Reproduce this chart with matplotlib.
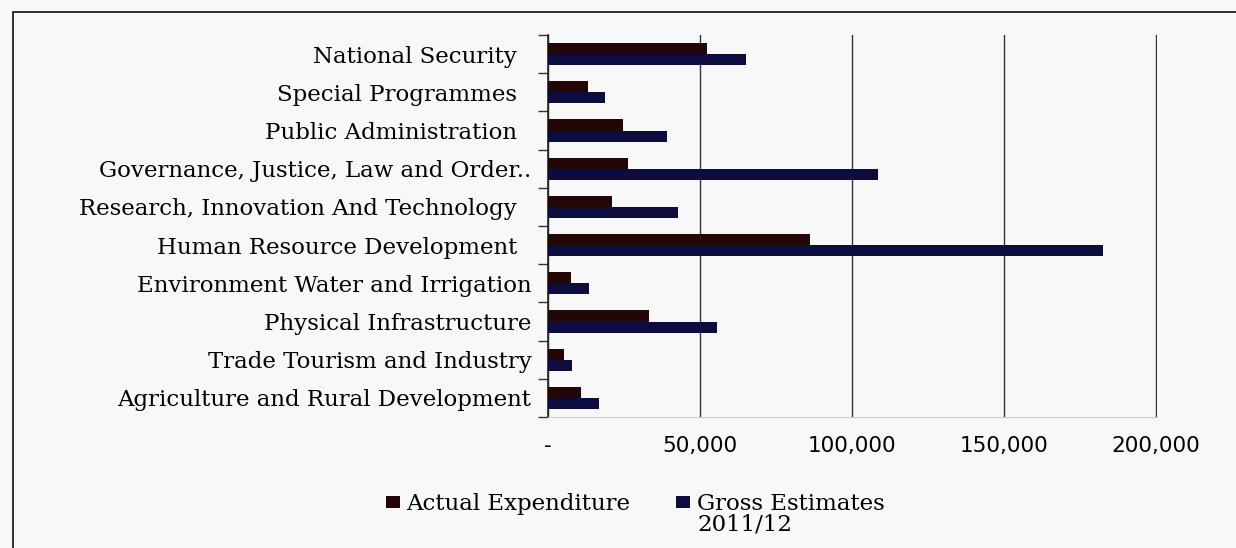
import numpy as np
import matplotlib
matplotlib.use("Agg")
import matplotlib.pyplot as plt
from matplotlib.patches import Rectangle

# categories bottom -> top
categories = [
    "Agriculture and Rural Development",
    "Trade Tourism and Industry",
    "Physical Infrastructure",
    "Environment Water and Irrigation",
    "Human Resource Development  ",
    "Research, Innovation And Technology  ",
    "Governance, Justice, Law and Order..",
    "Public Administration  ",
    "Special Programmes  ",
    "National Security  ",
]
actual = [10900, 5300, 33200, 7600, 86200, 21100, 26300, 24700, 13200, 52300]
gross = [16800, 7900, 55600, 13500, 182600, 42800, 108600, 39100, 18800, 65100]
xticks = [0, 50000, 100000, 150000, 200000]
xticklabels = ["-", "50,000", "100,000", "150,000", "200,000"]

c_actual = "#230707"
c_gross = "#0c0c3e"
bg = "#f8f8f8"

fig = plt.figure(figsize=(12.36, 5.48), dpi=100, facecolor=bg)
ax = fig.add_axes([0.4434, 0.239, 0.4927, 0.697])
ax.set_facecolor(bg)

y = np.arange(len(categories))
h = 0.29
ax.barh(y + h / 2, actual, height=h, color=c_actual, label="Actual Expenditure", zorder=3)
ax.barh(y - h / 2, gross, height=h, color=c_gross, label="Gross Estimates", zorder=3)

ax.set_xlim(0, 200400)
ax.set_ylim(-0.5, len(categories) - 0.5)
ax.set_xticks(xticks)
ax.set_xticklabels(xticklabels, fontsize=15.5, family="DejaVu Sans")
ax.tick_params(axis="x", length=0, pad=14)

ax.set_yticks(y)
ax.set_yticklabels(categories, fontsize=16.5, family="DejaVu Serif")
ax.tick_params(axis="y", which="major", length=0, pad=12)
ax.set_yticks(np.arange(len(categories) + 1) - 0.5, minor=True)
ax.tick_params(axis="y", which="minor", length=7, width=1, color="#333333")

ax.grid(axis="x", color="#333333", linewidth=1, zorder=0)
for s in ["top", "right"]:
    ax.spines[s].set_visible(False)
ax.spines["left"].set_color("#222222")
ax.spines["left"].set_linewidth(1.2)
ax.spines["bottom"].set_color("#d8d0a0")

# outer frame (clipped on right/bottom like the source)
fig.patches.append(Rectangle((13 / 1236, -0.1), 1.2, (548 - 12) / 548 + 0.1,
                             transform=fig.transFigure, fill=False,
                             edgecolor="#222222", linewidth=1.3))

leg = fig.legend(loc="center", bbox_to_anchor=(0.514, 0.080), ncol=2, frameon=False,
                 prop={"family": "DejaVu Serif", "size": 16.5}, handlelength=0.6, handleheight=0.45,
                 handletextpad=0.3, columnspacing=2.0)

# second line of the Gross Estimates label, under its first line
fig.canvas.draw()
bb = leg.get_texts()[1].get_window_extent()
base2 = bb.y0 + 5.4 - 21
fig.text(bb.x0 / 1236, base2 / 548, "2011/12", family="DejaVu Serif", fontsize=16.5,
         ha="left", va="baseline")

fig.savefig("out.png", dpi=100, facecolor=bg)
